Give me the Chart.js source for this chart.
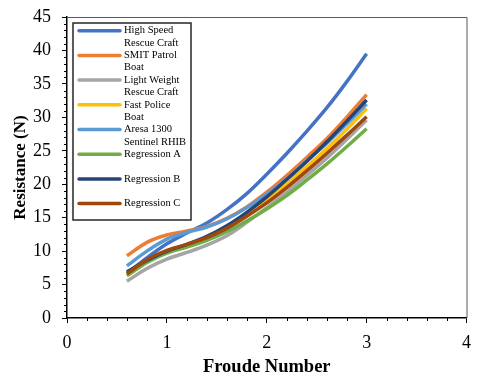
<!DOCTYPE html>
<html>
<head>
<meta charset="utf-8">
<script src="https://cdn.jsdelivr.net/npm/chart.js@4.4.1/dist/chart.umd.min.js"></script>
<style>
  html, body { margin: 0; padding: 0; background: #fff; }
  #wrap { width: 480px; height: 380px; position: relative; }
</style>
</head>
<body>
<div id="wrap"><canvas id="chart"></canvas></div>
<script>
const froude = [0.6, 0.8, 1.0, 1.2, 1.4, 1.6, 1.8, 2.0, 2.2, 2.4, 2.6, 2.8, 3.0];

// Resistance (N) per series
const highSpeed   = [6.7, 9.0, 11.1, 12.7, 14.2, 16.2, 18.6, 21.5, 24.6, 27.9, 31.4, 35.3, 39.5];
const smitPatrol  = [9.3, 11.3, 12.4, 13.0, 13.7, 14.9, 16.6, 18.8, 21.3, 24.0, 26.8, 30.0, 33.4];
const lightWeight = [5.5, 7.4, 8.8, 9.8, 10.9, 12.3, 14.3, 16.5, 18.8, 21.3, 23.9, 26.7, 29.6];
const fastPolice  = [6.6, 8.5, 9.8, 10.8, 11.9, 13.4, 15.4, 17.6, 20.0, 22.6, 25.3, 28.2, 31.3];
const aresa       = [7.8, 10.0, 11.8, 12.8, 13.6, 14.8, 16.5, 18.5, 20.8, 23.5, 26.1, 29.0, 32.0];
const regA        = [6.3, 8.3, 9.7, 10.6, 11.6, 12.9, 14.5, 16.3, 18.3, 20.6, 23.0, 25.6, 28.3];
const regB        = [6.9, 8.6, 10.0, 11.0, 12.2, 13.8, 15.8, 18.1, 20.7, 23.4, 26.3, 29.4, 32.6];
const regC        = [6.6, 8.7, 10.1, 11.0, 12.0, 13.4, 15.2, 17.2, 19.5, 22.0, 24.6, 27.3, 30.1];

// Legend labels (wrapped as in the original)
const seriesNames = [
  ['High Speed', 'Rescue Craft'],
  ['SMIT Patrol', 'Boat'],
  ['Light Weight', 'Rescue Craft'],
  ['Fast Police', 'Boat'],
  ['Aresa 1300', 'Sentinel RHIB'],
  ['Regression A'],
  ['Regression B'],
  ['Regression C']
];
const seriesValues = [highSpeed, smitPatrol, lightWeight, fastPolice, aresa, regA, regB, regC];
const seriesColors = ['#4472C4', '#ED7D31', '#A5A5A5', '#FFC000', '#5B9BD5', '#70AD47', '#264478', '#9E480E'];

const xTicks = [0, 1, 2, 3, 4];
const yTicks = [0, 5, 10, 15, 20, 25, 30, 35, 40, 45];

const serif = "'Liberation Serif', 'Times New Roman', serif";

// Frame, minor ticks and the boxed legend
const extrasPlugin = {
  id: 'extras',
  afterDraw(chart) {
    const { ctx, chartArea: a, scales } = chart;
    ctx.save();
    // top / right frame
    ctx.strokeStyle = '#595959';
    ctx.lineWidth = 1;
    ctx.beginPath();
    ctx.moveTo(a.left, a.top + 0.5);
    ctx.lineTo(a.right + 0.5, a.top + 0.5);
    ctx.lineTo(a.right + 0.5, a.bottom);
    ctx.stroke();

    // minor ticks
    ctx.strokeStyle = '#000';
    ctx.lineWidth = 1;
    ctx.beginPath();
    for (let v = 0.2; v < 4; v += 0.2) {
      if (Math.abs(v - Math.round(v)) < 0.01) continue;
      const px = Math.round(scales.x.getPixelForValue(v)) + 0.5;
      ctx.moveTo(px, a.bottom);
      ctx.lineTo(px, a.bottom + 3);
    }
    for (let v = 1; v < 45; v++) {
      if (v % 5 === 0) continue;
      const py = Math.round(scales.y.getPixelForValue(v)) + 0.5;
      ctx.moveTo(a.left, py);
      ctx.lineTo(a.left - 3, py);
    }
    ctx.stroke();

    // legend box
    const lx = 73, ly = 23, lw = 118, lh = 197;
    ctx.fillStyle = '#fff';
    ctx.fillRect(lx, ly, lw, lh);
    ctx.strokeStyle = '#262626';
    ctx.lineWidth = 1.5;
    ctx.strokeRect(lx, ly, lw, lh);

    ctx.font = '10.5px ' + serif;
    ctx.textBaseline = 'middle';
    ctx.fillStyle = '#000';
    seriesNames.forEach((lines, i) => {
      const y = 30.7 + i * 24.7;
      ctx.strokeStyle = seriesColors[i];
      ctx.lineWidth = 3.5;
      ctx.lineCap = 'round';
      ctx.beginPath();
      ctx.moveTo(79, y);
      ctx.lineTo(120, y);
      ctx.stroke();
      lines.forEach((t, j) => ctx.fillText(t, 124, y + j * 12.3));
    });
    ctx.restore();
  }
};

const datasets = seriesValues.map((vals, i) => ({
  label: seriesNames[i].join(' '),
  data: froude.map((f, k) => ({ x: f, y: vals[k] })),
  borderColor: seriesColors[i],
  backgroundColor: seriesColors[i],
  borderWidth: 3.5,
  pointRadius: 0,
  cubicInterpolationMode: 'monotone',
  fill: false,
  order: seriesValues.length - i
}));

new Chart(document.getElementById('chart'), {
  type: 'line',
  data: { datasets },
  options: {
    responsive: true,
    maintainAspectRatio: false,
    animation: false,
    layout: { padding: { top: 17, right: 13, left: 0, bottom: 0 } },
    plugins: {
      legend: { display: false },
      tooltip: { enabled: false }
    },
    scales: {
      x: {
        type: 'linear',
        min: 0,
        max: 4,
        afterBuildTicks: (s) => { s.ticks = xTicks.map(v => ({ value: v })); },
        afterFit: (s) => { s.height = 62; },
        ticks: { color: '#000', font: { family: serif, size: 18 }, padding: 9, maxRotation: 0 },
        grid: { drawOnChartArea: false, drawTicks: true, tickLength: 5, color: '#000', lineWidth: 1 },
        border: { display: true, color: '#000', width: 1.5 },
        title: {
          display: true,
          text: 'Froude Number',
          color: '#000',
          font: { family: serif, size: 18.5, weight: 'bold' },
          padding: { top: 0, bottom: 2 }
        }
      },
      y: {
        min: 0,
        max: 45,
        afterBuildTicks: (s) => { s.ticks = yTicks.map(v => ({ value: v })); },
        afterFit: (s) => { s.width = 67; s.paddingTop = 0; s.paddingBottom = 0; },
        ticks: { color: '#000', font: { family: serif, size: 18 }, padding: 11 },
        grid: { drawOnChartArea: false, drawTicks: true, tickLength: 5, color: '#000', lineWidth: 1 },
        border: { display: true, color: '#000', width: 1.5 },
        title: {
          display: true,
          text: 'Resistance (N)',
          color: '#000',
          font: { family: serif, size: 17, weight: 'bold' },
          padding: { top: 10, bottom: 0 }
        }
      }
    }
  },
  plugins: [extrasPlugin]
});
</script>
</body>
</html>
